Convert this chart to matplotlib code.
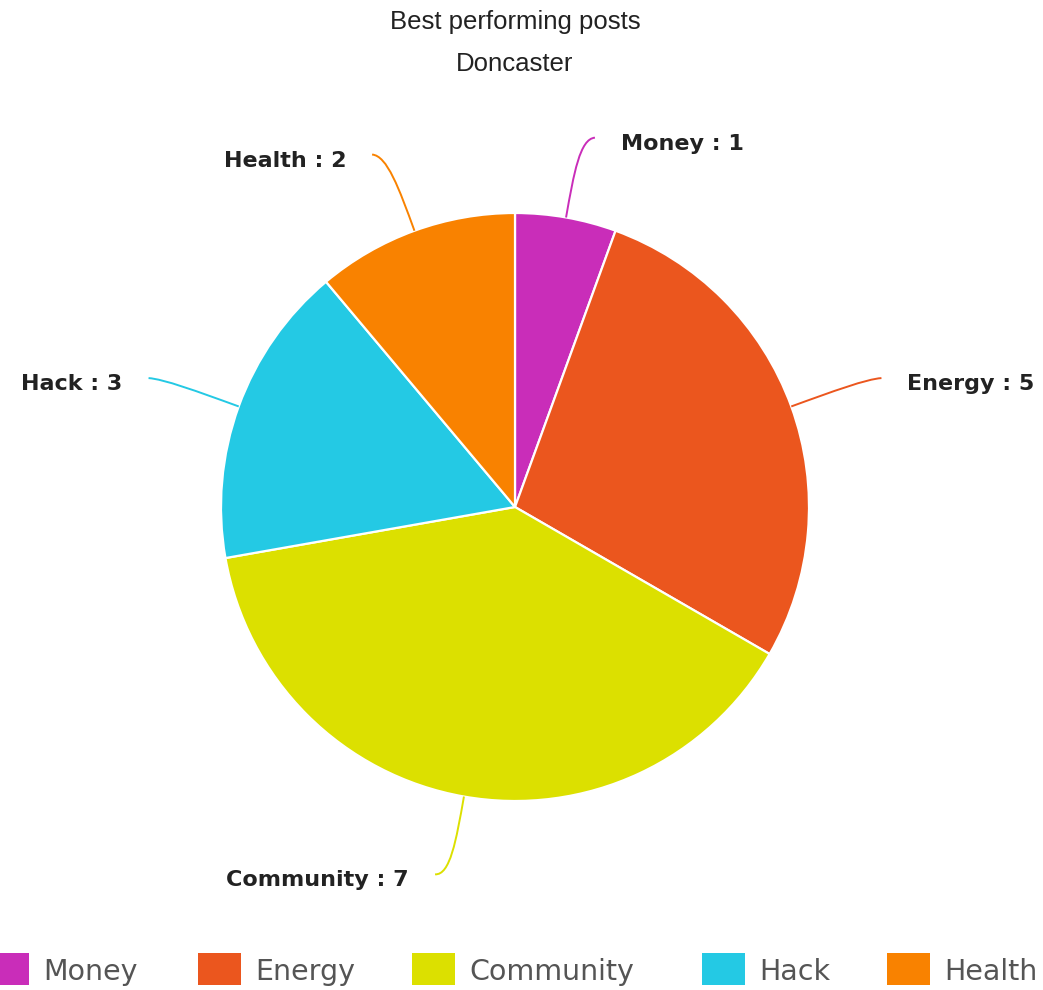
import numpy as np
import matplotlib.pyplot as plt
from matplotlib.path import Path
from matplotlib.patches import PathPatch, Rectangle

categories = ["Money", "Energy", "Community", "Hack", "Health"]
counts = [1, 5, 7, 3, 2]
colors = ["#C92DB9", "#EB561E", "#DCE000", "#24C9E4", "#F98200"]

W, H = 1043, 990
fig = plt.figure(figsize=(W / 100, H / 100), dpi=100)
ax = fig.add_axes([0, 0, 1, 1])

cx, cy, r = 515, H - 507, 294
wedges, _ = ax.pie(counts, colors=colors, startangle=90, counterclock=False,
                   center=(cx, cy), radius=r,
                   wedgeprops=dict(edgecolor="white", linewidth=1.6))
ax.set_xlim(0, W)
ax.set_ylim(0, H)
ax.set_aspect("auto")
ax.axis("off")

# curved leader lines + "name : value" labels
for w, name, n, col in zip(wedges, categories, counts, colors):
    ang = np.deg2rad((w.theta1 + w.theta2) / 2)
    dx, dy = np.cos(ang), np.sin(ang)
    side = 1 if dx >= 0 else -1
    p0 = (cx + r * dx, cy + r * dy)
    p1 = (cx + (r + 45) * dx, cy + (r + 45) * dy)
    p2 = (cx + (r + 80) * dx, cy + (r + 80) * dy)
    p3 = (p2[0] + side * 15, p2[1] + 1)
    path = Path([p0, p1, p2, p3],
                [Path.MOVETO, Path.CURVE4, Path.CURVE4, Path.CURVE4])
    ax.add_patch(PathPatch(path, facecolor="none", edgecolor=col, lw=1.4))
    ax.text(p3[0] + side * 26, p3[1] - 12, f"{name} : {n}",
            ha="left" if side > 0 else "right", va="baseline",
            fontsize=16, fontweight="bold", color="#222222",
            family="DejaVu Sans")

ax.text(515, H - 29, "Best performing posts", ha="center", va="baseline",
        fontsize=18.5, family="Liberation Sans", color="#222222")
ax.text(515, H - 71, "Doncaster", ha="center", va="baseline",
        fontsize=18.5, family="Liberation Sans", color="#222222")

# legend row along the bottom
legend_x = [-14, 198, 412, 702, 887]
for x, name, col in zip(legend_x, categories, colors):
    ax.add_patch(Rectangle((x, H - 985), 43, 32, facecolor=col,
                           edgecolor="none", clip_on=False))
    ax.text(x + 57, H - 980, name, ha="left", va="baseline",
            fontsize=20.5, family="DejaVu Sans", color="#555555")

plt.savefig("out.png", dpi=100)
